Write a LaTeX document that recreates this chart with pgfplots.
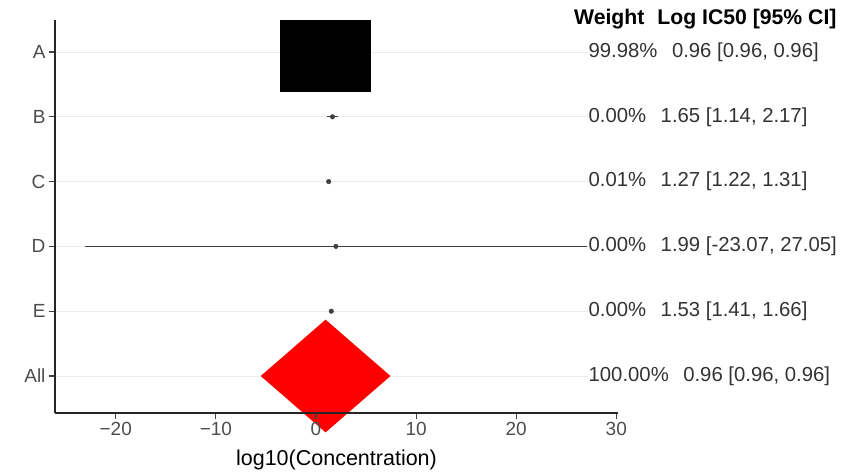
\documentclass[border=0pt]{standalone}
\usepackage{fontspec}
\setmainfont{Liberation Sans}
\usepackage{pgfplots}
\pgfplotsset{compat=1.18}
\definecolor{gridc}{HTML}{EBEBEB}
\definecolor{tickc}{HTML}{4D4D4D}
\definecolor{rowc}{HTML}{333333}
\definecolor{ptc}{HTML}{404040}
\begin{document}
\begin{tikzpicture}
\useasboundingbox (0pt,0pt) rectangle (851pt,472pt);
\begin{axis}[
  at={(55pt,59pt)}, anchor=south west,
  scale only axis, width=563pt, height=393pt,
  xmin=-26.07, xmax=30.17, ymin=-0.571, ymax=5.494,
  axis lines*=left,
  axis line style={-, line width=1.3pt, color=black!85},
  clip=false, axis on top,
  xtick={-20,-10,0,10,20,30}, xticklabels={−20,−10,0,10,20,30},
  ytick={0,1,2,3,4,5}, yticklabels={All,E,D,C,B,A},
  tick align=outside, major tick length=6pt,
  tick style={line width=1.1pt, color=black!75},
  tick label style={font=\fontsize{19}{19}\selectfont, text=tickc},
  xlabel={log10(Concentration)},
  xlabel style={at={(axis description cs:0.5,0)}, anchor=base, yshift=-52pt,
    font=\fontsize{21.5}{21.5}\selectfont, text=black},
]
% grid lines
\draw[gridc, line width=1pt] (axis cs:-26.07,0) -- (axis cs:27.2,0);
\draw[gridc, line width=1pt] (axis cs:-26.07,1) -- (axis cs:27.2,1);
\draw[gridc, line width=1pt] (axis cs:-26.07,2) -- (axis cs:27.2,2);
\draw[gridc, line width=1pt] (axis cs:-26.07,3) -- (axis cs:27.2,3);
\draw[gridc, line width=1pt] (axis cs:-26.07,4) -- (axis cs:27.2,4);
\draw[gridc, line width=1pt] (axis cs:-26.07,5) -- (axis cs:27.2,5);
% confidence intervals
\addplot[ptc, line width=0.9pt] coordinates {(1.14,4) (2.17,4)};
\addplot[ptc, line width=0.9pt] coordinates {(1.22,3) (1.31,3)};
\addplot[ptc, line width=0.9pt] coordinates {(-23.07,2) (27.05,2)};
\addplot[ptc, line width=0.9pt] coordinates {(1.41,1) (1.66,1)};
% point estimates
\addplot[only marks, mark=*, mark size=2.3pt, ptc] coordinates {(1.65,4) (1.27,3) (1.99,2) (1.53,1)};
% study A (weight 99.98%)
\addplot[fill=black, draw=none] coordinates {(-3.62,4.383) (5.54,4.383) (5.54,5.494) (-3.62,5.494)} --cycle;
% pooled diamond
\addplot[fill=red, draw=none] coordinates {(-5.52,0) (0.96,0.87) (7.44,0) (0.96,-0.87)} --cycle;
% text columns
\node[anchor=base west, inner sep=0pt, font=\bfseries\fontsize{21.2}{21.2}\selectfont] at (axis cs:25.77,5.417) {Weight\hspace{13pt}Log IC50 [95\% CI]};
\node[anchor=west, inner sep=0pt, font=\fontsize{20.3}{20.3}\selectfont, text=rowc] at (axis cs:27.22,5) {99.98\%\hspace{14.5pt}0.96 [0.96, 0.96]};
\node[anchor=west, inner sep=0pt, font=\fontsize{20.3}{20.3}\selectfont, text=rowc] at (axis cs:27.22,4) {0.00\%\hspace{14.5pt}1.65 [1.14, 2.17]};
\node[anchor=west, inner sep=0pt, font=\fontsize{20.3}{20.3}\selectfont, text=rowc] at (axis cs:27.22,3) {0.01\%\hspace{14.5pt}1.27 [1.22, 1.31]};
\node[anchor=west, inner sep=0pt, font=\fontsize{20.3}{20.3}\selectfont, text=rowc] at (axis cs:27.22,2) {0.00\%\hspace{14.5pt}1.99 [-23.07, 27.05]};
\node[anchor=west, inner sep=0pt, font=\fontsize{20.3}{20.3}\selectfont, text=rowc] at (axis cs:27.22,1) {0.00\%\hspace{14.5pt}1.53 [1.41, 1.66]};
\node[anchor=west, inner sep=0pt, font=\fontsize{20.3}{20.3}\selectfont, text=rowc] at (axis cs:27.22,0) {100.00\%\hspace{14.5pt}0.96 [0.96, 0.96]};
\end{axis}
\end{tikzpicture}
\end{document}
